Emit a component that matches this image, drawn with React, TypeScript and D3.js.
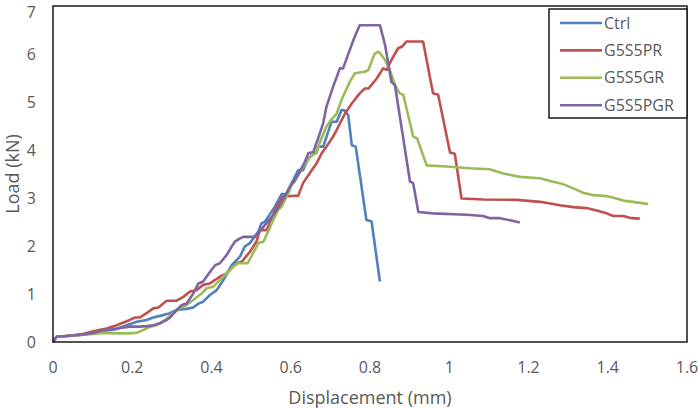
import React from 'react';
import * as d3 from 'd3';

// Displacement (mm) / Load (kN)
const ctrlX = [0, 0.009, 0.035, 0.068, 0.102, 0.127, 0.156, 0.186, 0.211, 0.236, 0.253, 0.278, 0.295, 0.312, 0.337, 0.354, 0.367, 0.379, 0.396, 0.413, 0.430, 0.451, 0.472, 0.484, 0.497, 0.518, 0.526, 0.535, 0.560, 0.577, 0.589, 0.606, 0.619, 0.631, 0.644, 0.665, 0.669, 0.682, 0.703, 0.716, 0.728, 0.735, 0.745, 0.754, 0.764, 0.791, 0.804, 0.825];
const ctrlY = [0, 0.11, 0.125, 0.146, 0.19, 0.23, 0.26, 0.35, 0.42, 0.46, 0.51, 0.56, 0.60, 0.67, 0.69, 0.72, 0.80, 0.84, 0.98, 1.08, 1.29, 1.60, 1.78, 1.99, 2.06, 2.30, 2.47, 2.51, 2.82, 3.08, 3.08, 3.375, 3.58, 3.58, 3.83, 3.96, 4.07, 4.07, 4.59, 4.59, 4.83, 4.83, 4.73, 4.10, 4.07, 2.54, 2.51, 1.26];

const prX = [0, 0.009, 0.035, 0.077, 0.110, 0.135, 0.161, 0.173, 0.194, 0.207, 0.219, 0.236, 0.253, 0.266, 0.287, 0.312, 0.329, 0.346, 0.362, 0.379, 0.396, 0.421, 0.438, 0.463, 0.476, 0.497, 0.514, 0.522, 0.539, 0.564, 0.581, 0.619, 0.631, 0.653, 0.665, 0.678, 0.690, 0.707, 0.716, 0.737, 0.754, 0.774, 0.787, 0.796, 0.817, 0.833, 0.842, 0.854, 0.871, 0.880, 0.892, 0.934, 0.959, 0.972, 1.002, 1.014, 1.031, 1.086, 1.170, 1.229, 1.262, 1.279, 1.313, 1.346, 1.372, 1.397, 1.414, 1.439, 1.460, 1.481];
const prY = [0, 0.11, 0.125, 0.17, 0.24, 0.28, 0.35, 0.39, 0.46, 0.51, 0.51, 0.60, 0.70, 0.72, 0.86, 0.86, 0.94, 1.05, 1.08, 1.19, 1.22, 1.36, 1.43, 1.64, 1.67, 1.88, 2.10, 2.33, 2.33, 2.82, 3.03, 3.05, 3.31, 3.58, 3.72, 3.93, 4.07, 4.28, 4.42, 4.76, 4.97, 5.18, 5.28, 5.28, 5.49, 5.70, 5.67, 5.875, 6.12, 6.15, 6.26, 6.26, 5.18, 5.15, 3.95, 3.92, 2.99, 2.97, 2.96, 2.92, 2.875, 2.85, 2.81, 2.79, 2.74, 2.68, 2.625, 2.625, 2.58, 2.57];

const grX = [0, 0.009, 0.035, 0.068, 0.102, 0.127, 0.161, 0.186, 0.211, 0.228, 0.245, 0.262, 0.283, 0.303, 0.320, 0.337, 0.354, 0.375, 0.388, 0.404, 0.421, 0.438, 0.455, 0.467, 0.491, 0.505, 0.518, 0.531, 0.552, 0.568, 0.577, 0.594, 0.602, 0.610, 0.631, 0.644, 0.653, 0.665, 0.674, 0.690, 0.703, 0.716, 0.728, 0.749, 0.762, 0.787, 0.796, 0.812, 0.821, 0.829, 0.838, 0.850, 0.863, 0.875, 0.884, 0.909, 0.919, 0.943, 1.002, 1.052, 1.102, 1.136, 1.178, 1.229, 1.262, 1.287, 1.313, 1.338, 1.363, 1.397, 1.422, 1.443, 1.464, 1.502];
const grY = [0, 0.11, 0.125, 0.146, 0.17, 0.19, 0.18, 0.18, 0.19, 0.25, 0.32, 0.35, 0.46, 0.60, 0.70, 0.77, 0.875, 1.01, 1.12, 1.15, 1.29, 1.43, 1.57, 1.64, 1.64, 1.85, 2.06, 2.09, 2.47, 2.75, 2.82, 3.10, 3.27, 3.34, 3.65, 3.79, 3.90, 3.93, 4.17, 4.49, 4.64, 4.76, 5.04, 5.42, 5.60, 5.63, 5.67, 6.01, 6.05, 5.98, 5.875, 5.67, 5.35, 5.18, 5.15, 4.28, 4.24, 3.68, 3.65, 3.62, 3.60, 3.51, 3.44, 3.41, 3.34, 3.29, 3.20, 3.11, 3.06, 3.04, 2.99, 2.94, 2.92, 2.875];

const pgrX = [0, 0.009, 0.035, 0.068, 0.102, 0.127, 0.161, 0.194, 0.219, 0.236, 0.253, 0.270, 0.287, 0.295, 0.308, 0.325, 0.337, 0.354, 0.367, 0.379, 0.396, 0.409, 0.421, 0.438, 0.451, 0.459, 0.472, 0.480, 0.510, 0.518, 0.535, 0.556, 0.568, 0.585, 0.598, 0.610, 0.623, 0.636, 0.644, 0.657, 0.669, 0.682, 0.690, 0.707, 0.724, 0.732, 0.758, 0.774, 0.825, 0.838, 0.854, 0.863, 0.901, 0.909, 0.922, 0.959, 1.044, 1.086, 1.102, 1.128, 1.157, 1.178];
const pgrY = [0, 0.11, 0.125, 0.146, 0.19, 0.25, 0.28, 0.32, 0.32, 0.33, 0.35, 0.39, 0.46, 0.51, 0.63, 0.77, 0.80, 1.01, 1.22, 1.26, 1.46, 1.60, 1.64, 1.81, 1.99, 2.09, 2.16, 2.19, 2.19, 2.26, 2.44, 2.65, 2.79, 3.03, 3.24, 3.375, 3.55, 3.76, 3.93, 3.96, 4.24, 4.56, 4.90, 5.32, 5.70, 5.70, 6.29, 6.60, 6.60, 6.19, 5.42, 5.35, 3.34, 3.31, 2.71, 2.68, 2.65, 2.625, 2.58, 2.58, 2.53, 2.49];

const seriesNames = ['Ctrl', 'G5S5PR', 'G5S5GR', 'G5S5PGR'];
const seriesColors = ['#4F81BD', '#C0504D', '#9BBB59', '#8064A2'];
const xTicks = [0, 0.2, 0.4, 0.6, 0.8, 1, 1.2, 1.4, 1.6];
const yTicks = [0, 1, 2, 3, 4, 5, 6, 7];

const W = 699;
const H = 408;
const margin = { left: 53, right: 12, top: 6, bottom: 66 };
const font = "'Open Sans', 'Liberation Sans', sans-serif";
const textColor = '#595959';

export default function App() {
  const x = d3.scaleLinear().domain([0, 1.6]).range([margin.left, W - margin.right]);
  const y = d3.scaleLinear().domain([0, 7]).range([H - margin.bottom, margin.top]);

  const all = [
    [ctrlX, ctrlY],
    [prX, prY],
    [grX, grY],
    [pgrX, pgrY],
  ];

  const line = d3
    .line<[number, number]>()
    .x((d) => x(d[0]))
    .y((d) => y(d[1]));

  const legendX = 549;
  const legendY = 9;

  return (
    <svg
      width={W}
      height={H}
      style={{ position: 'absolute', left: 0, top: 0, background: '#fff' }}
      fontFamily={font}
    >
      {all.map(([xs, ys], i) => (
        <path
          key={seriesNames[i]}
          d={line(xs.map((v, j) => [v, ys[j]] as [number, number])) || ''}
          fill="none"
          stroke={seriesColors[i]}
          strokeWidth={2.6}
          strokeLinejoin="round"
        />
      ))}

      {/* plot frame */}
      <rect
        x={x(0)}
        y={y(7)}
        width={x(1.6) - x(0)}
        height={y(0) - y(7)}
        fill="none"
        stroke="#1a1a1a"
        strokeWidth={1.5}
      />

      {yTicks.map((t) => (
        <text key={t} x={x(0) - 17} y={Math.max(y(t), 12)} dy="0.35em" textAnchor="end" fontSize={16} fill={textColor}>
          {t}
        </text>
      ))}
      {xTicks.map((t) => (
        <text key={t} x={x(t)} y={y(0) + 25} dy="0.35em" textAnchor="middle" fontSize={16} fill={textColor}>
          {t}
        </text>
      ))}

      <text
        x={(x(0) + x(1.6)) / 2}
        y={398}
        dy="0.35em"
        textAnchor="middle"
        fontSize={18}
        fill={textColor}
      >
        Displacement (mm)
      </text>
      <text
        transform={`translate(14,${(y(0) + y(7)) / 2}) rotate(-90)`}
        dy="0.3em"
        textAnchor="middle"
        fontSize={18}
        fill={textColor}
      >
        Load (kN)
      </text>

      {/* legend */}
      <rect
        x={legendX}
        y={legendY}
        width={x(1.6) - legendX}
        height={109}
        fill="#fff"
        stroke="#1a1a1a"
        strokeWidth={1.5}
      />
      {seriesNames.map((name, i) => {
        const cy = legendY + 14 + i * 27.4;
        return (
          <g key={name}>
            <line x1={560} x2={602} y1={cy} y2={cy} stroke={seriesColors[i]} strokeWidth={2.6} />
            <text x={604} y={cy} dy="0.35em" fontSize={16} fill={textColor}>
              {name}
            </text>
          </g>
        );
      })}
    </svg>
  );
}
